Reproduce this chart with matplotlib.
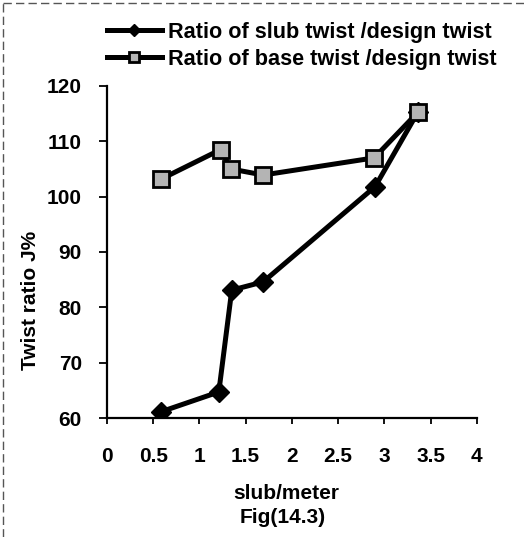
import numpy as np
import matplotlib.pyplot as plt
from matplotlib.lines import Line2D

plt.rcParams['font.family'] = ['Liberation Sans', 'DejaVu Sans']
plt.rcParams['font.weight'] = 'bold'
plt.rcParams['axes.labelweight'] = 'bold'

# slub twist / design twist
slub_x = [0.58, 1.21, 1.35, 1.69, 2.90, 3.36]
slub_y = [61.1, 64.7, 83.1, 84.6, 101.8, 115.2]

# base twist / design twist
base_x = [0.59, 1.23, 1.34, 1.69, 2.89, 3.36]
base_y = [103.2, 108.5, 105.0, 103.9, 107.0, 115.2]

xticks = [0, 0.5, 1, 1.5, 2, 2.5, 3, 3.5, 4]
yticks = [60, 70, 80, 90, 100, 110, 120]

fig = plt.figure(figsize=(5.24, 5.37), dpi=100)
ax = fig.add_axes([0.204, 0.2216, 0.706, 0.6184])

l1, = ax.plot(slub_x, slub_y, '-D', color='black', lw=3.6, ms=10,
              mfc='black', mec='black', label='Ratio of slub twist /design twist')
l2, = ax.plot(base_x, base_y, '-s', color='black', lw=3.6, ms=11,
              mfc='#b4b4b4', mec='black', mew=2, label='Ratio of base twist /design twist')

ax.set_xlim(0, 4)
ax.set_ylim(60, 120)
ax.set_xticks(xticks)
ax.set_xticklabels(['0', '0.5', '1', '1.5', '2', '2.5', '3', '3.5', '4'])
ax.set_yticks(yticks)

for s in ['top', 'right']:
    ax.spines[s].set_visible(False)
for s in ['left', 'bottom']:
    ax.spines[s].set_linewidth(1.6)
ax.tick_params(axis='x', direction='out', length=4, width=1.3, pad=17, labelsize=15)
ax.tick_params(axis='y', direction='out', length=6, width=1.3, pad=12, labelsize=15)

ax.set_ylabel('Twist ratio J%', fontsize=15)
ax.yaxis.set_label_coords(-0.18, 0.355)
ax.set_xlabel('slub/meter', fontsize=15)
ax.xaxis.set_label_coords(0.486, -0.2)
fig.text(0.54, 0.036, 'Fig(14.3)', fontsize=15, ha='center', va='center')

fig.legend(handles=[l1, l2], loc='upper left', bbox_to_anchor=(0.176, 0.988),
           frameon=False, fontsize=15.6, handlelength=2.5, handletextpad=0.3,
           labelspacing=0.28, borderaxespad=0.3, markerscale=0.6)

# page border
fig.add_artist(Line2D([0.005, 1.0], [0.994, 0.994], transform=fig.transFigure,
                      color='#555555', lw=1, ls=(0, (6, 3))))
fig.add_artist(Line2D([0.006, 0.006], [0.0, 0.994], transform=fig.transFigure,
                      color='#555555', lw=1, ls=(0, (6, 3))))

fig.savefig('out.png', dpi=100)
